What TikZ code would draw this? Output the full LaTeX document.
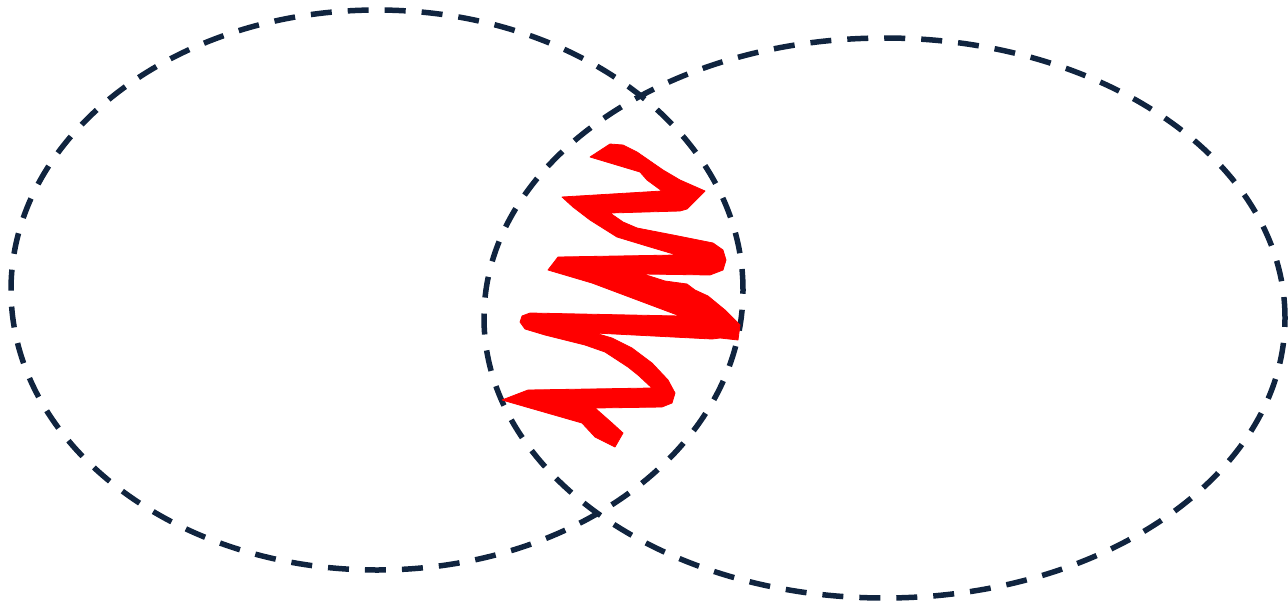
\documentclass[tikz,border=0pt]{standalone}
\usetikzlibrary{shapes.geometric}
\definecolor{navy}{HTML}{10243F}
\definecolor{scribble}{HTML}{FF0000}
\tikzset{
  setring/.style={draw=navy, line width=5.5pt, dash pattern=on 21pt off 16pt},
  markfill/.style={fill=scribble, draw=scribble, line width=0.8pt, line join=round}
}
\begin{document}
\begin{tikzpicture}[x=1pt,y=-1pt]
\useasboundingbox (0,0) rectangle (1288,603);
\node[setring, ellipse, minimum width=732pt, minimum height=560pt, inner sep=0pt] (left) at (377,290) {};
\node[setring, ellipse, minimum width=801pt, minimum height=560pt, inner sep=0pt] (right) at (884.5,318) {};
\path[markfill]
  (590,157) -- (610,144) -- (623,145) -- (637,152) -- (650,161) -- (663,170) -- (680,180) -- (705,191)
  -- (687,209) -- (680,211) -- (610,213)
  -- (623,222) -- (637,228) -- (673,235) -- (713,243) -- (723,250) -- (726,260) -- (723,270) -- (710,275)
  -- (643,274)
  -- (665,281) -- (687,284) -- (695,290) -- (708,296) -- (725,310) -- (740,325)
  -- (738,340) -- (720,338) -- (712,339)
  -- (595,333)
  -- (612,338) -- (632,348) -- (652,363) -- (668,380) -- (675,393) -- (672,403) -- (662,407)
  -- (595,408)
  -- (612,423) -- (623,433) -- (615,447) -- (595,437) -- (582,423) -- (502,400)
  -- (528,390) -- (652,388)
  -- (638,375) -- (628,367) -- (605,352) -- (585,345) -- (545,335) -- (525,329)
  -- (520,322) -- (522,316) -- (530,313)
  -- (680,316)
  -- (592,283) -- (548,270)
  -- (558,257) -- (677,255)
  -- (650,247) -- (617,237) -- (590,220) -- (573,207) -- (562,197)
  -- (662,191)
  -- (647,180) -- (640,172) -- cycle;
\end{tikzpicture}
\end{document}
